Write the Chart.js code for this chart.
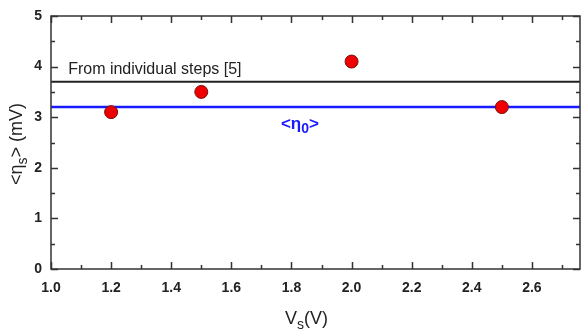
<!DOCTYPE html>
<html>
<head>
<meta charset="utf-8">
<script src="https://cdn.jsdelivr.net/npm/chart.js@4"></script>
<style>
  html, body { margin: 0; padding: 0; background: #fff; }
  #wrap { width: 581px; height: 329px; }
</style>
</head>
<body>
<div id="wrap"><canvas id="etaChart"></canvas></div>
<script>
// === data ===
const voltages = [1.2, 1.5, 2.0, 2.5];
const etaValues = [3.1, 3.5, 4.1, 3.2];
const stepsLevel = 3.7;   // from individual steps [5]
const eta0Level = 3.2;    // <eta_0>
const xRange = [1.0, 2.76];
const yRange = [0, 5];
const xTickLabels = ['1.0', '1.2', '1.4', '1.6', '1.8', '2.0', '2.2', '2.4', '2.6'];
const yTickLabels = ['0', '1', '2', '3', '4', '5'];

const FONT = '"Liberation Sans", Arial, sans-serif';

// draws text with a subscript part: [[text, size, dy], ...]
function drawParts(ctx, parts, x, y, weight) {
  parts.forEach(([t, size, dy]) => {
    ctx.font = weight + ' ' + size + 'px ' + FONT;
    ctx.fillText(t, x, y + dy);
    x += ctx.measureText(t).width;
  });
}
function partsWidth(ctx, parts, weight) {
  let w = 0;
  parts.forEach(([t, size]) => {
    ctx.font = weight + ' ' + size + 'px ' + FONT;
    w += ctx.measureText(t).width;
  });
  return w;
}

// inward ticks, frame, axis titles and text notes
const framePlugin = {
  id: 'frame',
  afterDatasetsDraw(chart) {
    const { ctx, chartArea: a, scales: { x, y } } = chart;
    ctx.save();
    ctx.strokeStyle = '#333';
    ctx.lineWidth = 1.5;
    ctx.strokeRect(a.left, a.top, a.right - a.left, a.bottom - a.top);

    for (let v = 1.0; v <= xRange[1] + 1e-6; v += 0.1) {
      const px = Math.round(x.getPixelForValue(v)) + 0.5;
      const major = Math.round(v * 10) % 2 === 0;
      const len = major ? 7 : 4;
      ctx.beginPath();
      ctx.moveTo(px, a.bottom); ctx.lineTo(px, a.bottom - len);
      ctx.moveTo(px, a.top); ctx.lineTo(px, a.top + len);
      ctx.stroke();
    }
    for (let v = 0; v <= 5 + 1e-6; v += 0.5) {
      const py = Math.round(y.getPixelForValue(v)) + 0.5;
      const major = Math.round(v * 2) % 2 === 0;
      const len = major ? 7 : 4;
      ctx.beginPath();
      ctx.moveTo(a.left, py); ctx.lineTo(a.left + len, py);
      ctx.moveTo(a.right, py); ctx.lineTo(a.right - len, py);
      ctx.stroke();
    }

    ctx.textAlign = 'left';
    ctx.textBaseline = 'alphabetic';

    // text notes
    ctx.fillStyle = '#222';
    ctx.font = '16px ' + FONT;
    ctx.fillText('From individual steps [5]', x.getPixelForValue(1.057), y.getPixelForValue(3.85));

    ctx.fillStyle = '#1a1aff';
    drawParts(ctx, [['<η', 17, 0], ['0', 14, 4], ['>', 17, 0]],
      x.getPixelForValue(1.765), y.getPixelForValue(2.77), 'bold');

    // x title V_s(V)
    ctx.fillStyle = '#222';
    const xt = [['V', 18, 0], ['s', 14, 5], ['(V)', 18, 0]];
    drawParts(ctx, xt, 285, 324, 'normal');

    // y title <eta_s> (mV)
    const yt = [['<η', 18, 0], ['s', 14, 5], ['> (mV)', 18, 0]];
    const w = partsWidth(ctx, yt, 'normal');
    ctx.translate(22, 144);
    ctx.rotate(-Math.PI / 2);
    drawParts(ctx, yt, -w / 2, 0, 'normal');
    ctx.restore();
  }
};

const ctx = document.getElementById('etaChart').getContext('2d');
const etaChart = new Chart(ctx, {
  type: 'scatter',
  data: {
    datasets: [
      {
        label: 'steps',
        type: 'line',
        data: [{ x: xRange[0], y: stepsLevel }, { x: xRange[1], y: stepsLevel }],
        borderColor: '#222',
        borderWidth: 2,
        pointRadius: 0,
        order: 3
      },
      {
        label: 'eta0',
        type: 'line',
        data: [{ x: xRange[0], y: eta0Level }, { x: xRange[1], y: eta0Level }],
        borderColor: '#1a1aff',
        borderWidth: 2.5,
        pointRadius: 0,
        order: 2
      },
      {
        label: 'eta_s',
        data: voltages.map((v, i) => ({ x: v, y: etaValues[i] })),
        backgroundColor: '#ee0000',
        borderColor: '#7a1010',
        borderWidth: 1,
        pointRadius: 6.5,
        order: 1
      }
    ]
  },
  options: {
    responsive: true,
    maintainAspectRatio: false,
    animation: false,
    layout: { autoPadding: false, padding: { top: 16, right: 1, left: 0, bottom: 0 } },
    plugins: { legend: { display: false }, tooltip: { enabled: false } },
    scales: {
      x: {
        type: 'linear',
        min: xRange[0],
        max: xRange[1],
        afterBuildTicks: s => { s.ticks = xTickLabels.map(t => ({ value: +t })); },
        afterFit: s => { s.height = 60; s.paddingLeft = 0; s.paddingRight = 0; },
        grid: { display: false, drawTicks: false },
        border: { display: false },
        ticks: {
          callback: v => v.toFixed(1),
          color: '#222',
          font: { family: FONT, size: 14, weight: 'bold' },
          padding: 11,
          maxRotation: 0,
          autoSkip: false
        }
      },
      y: {
        min: yRange[0],
        max: yRange[1],
        afterBuildTicks: s => { s.ticks = yTickLabels.map(t => ({ value: +t })); },
        afterFit: s => { s.width = 51; s.paddingTop = 0; s.paddingBottom = 0; },
        grid: { display: false, drawTicks: false },
        border: { display: false },
        ticks: {
          callback: v => String(v),
          color: '#222',
          font: { family: FONT, size: 14, weight: 'bold' },
          padding: 9
        }
      }
    }
  },
  plugins: [framePlugin]
});
</script>
</body>
</html>
